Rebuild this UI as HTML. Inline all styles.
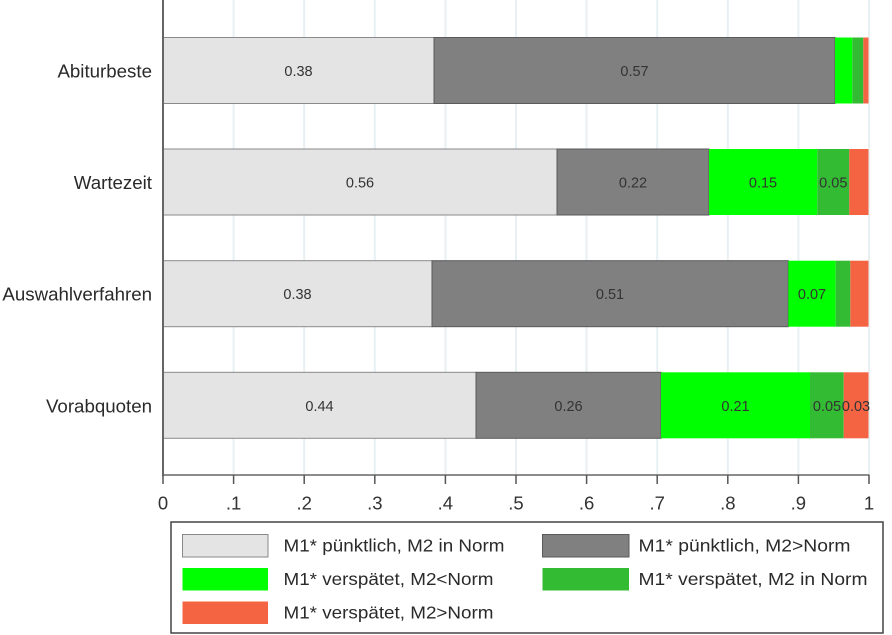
<!DOCTYPE html>
<html><head><meta charset="utf-8"><style>
html,body{margin:0;padding:0;background:#fff;}
svg{display:block;}
text{font-family:"Liberation Sans",Arial,sans-serif;}
</style></head><body>
<svg width="892" height="635" viewBox="0 0 892 635" xmlns="http://www.w3.org/2000/svg">
<rect width="892" height="635" fill="#fff"/>
<!-- gridlines -->
<g stroke="#e8f0f4" stroke-width="2">
<line x1="233.6" y1="0" x2="233.6" y2="475"/>
<line x1="304.2" y1="0" x2="304.2" y2="475"/>
<line x1="374.8" y1="0" x2="374.8" y2="475"/>
<line x1="445.4" y1="0" x2="445.4" y2="475"/>
<line x1="516" y1="0" x2="516" y2="475"/>
<line x1="586.6" y1="0" x2="586.6" y2="475"/>
<line x1="657.2" y1="0" x2="657.2" y2="475"/>
<line x1="727.8" y1="0" x2="727.8" y2="475"/>
<line x1="798.4" y1="0" x2="798.4" y2="475"/>
<line x1="869" y1="0" x2="869" y2="475"/>
</g>
<!-- bars -->
<g stroke-width="1">
<!-- Abiturbeste -->
<rect x="163" y="37.5" width="271" height="66" fill="#e4e4e4" stroke="#8a8a8a"/>
<rect x="434" y="37.5" width="401" height="66" fill="#808080" stroke="#5a5a5a"/>
<rect x="835" y="37.5" width="17.3" height="66" fill="#00ff00" stroke="none"/>
<rect x="852.3" y="37.5" width="11" height="66" fill="#33bb33" stroke="none"/>
<rect x="863.3" y="37.5" width="5.2" height="66" fill="#f46443" stroke="none"/>
<!-- Wartezeit -->
<rect x="163" y="149" width="394" height="66" fill="#e4e4e4" stroke="#8a8a8a"/>
<rect x="557" y="149" width="152" height="66" fill="#808080" stroke="#5a5a5a"/>
<rect x="709" y="149" width="108.3" height="66" fill="#00ff00" stroke="none"/>
<rect x="817.3" y="149" width="32" height="66" fill="#33bb33" stroke="none"/>
<rect x="849.3" y="149" width="19.2" height="66" fill="#f46443" stroke="none"/>
<!-- Auswahlverfahren -->
<rect x="163" y="260.7" width="269" height="66" fill="#e4e4e4" stroke="#8a8a8a"/>
<rect x="432" y="260.7" width="356.3" height="66" fill="#808080" stroke="#5a5a5a"/>
<rect x="788.3" y="260.7" width="47.4" height="66" fill="#00ff00" stroke="none"/>
<rect x="835.7" y="260.7" width="14.6" height="66" fill="#33bb33" stroke="none"/>
<rect x="850.3" y="260.7" width="18.2" height="66" fill="#f46443" stroke="none"/>
<!-- Vorabquoten -->
<rect x="163" y="372.3" width="313" height="66" fill="#e4e4e4" stroke="#8a8a8a"/>
<rect x="476" y="372.3" width="185" height="66" fill="#808080" stroke="#5a5a5a"/>
<rect x="661" y="372.3" width="149" height="66" fill="#00ff00" stroke="none"/>
<rect x="810" y="372.3" width="33.7" height="66" fill="#33bb33" stroke="none"/>
<rect x="843.7" y="372.3" width="24.8" height="66" fill="#f46443" stroke="none"/>
</g>
<!-- data labels -->
<g font-size="14.5" fill="#333" text-anchor="middle">
<text x="298.5" y="76">0.38</text>
<text x="634.5" y="76">0.57</text>
<text x="360" y="187.5">0.56</text>
<text x="633" y="187.5">0.22</text>
<text x="763" y="187.5">0.15</text>
<text x="833.3" y="187.5">0.05</text>
<text x="297.5" y="299.2">0.38</text>
<text x="610" y="299.2">0.51</text>
<text x="812" y="299.2">0.07</text>
<text x="319.5" y="410.8">0.44</text>
<text x="568.5" y="410.8">0.26</text>
<text x="735.5" y="410.8">0.21</text>
<text x="827" y="410.8">0.05</text>
<text x="856" y="410.8">0.03</text>
</g>
<!-- axes -->
<line x1="163" y1="0" x2="163" y2="476" stroke="#666" stroke-width="2"/>
<line x1="162" y1="475" x2="869.5" y2="475" stroke="#666" stroke-width="1.5"/>
<g stroke="#555" stroke-width="1.5">
<line x1="163" y1="475" x2="163" y2="484"/>
<line x1="233.6" y1="475" x2="233.6" y2="484"/>
<line x1="304.2" y1="475" x2="304.2" y2="484"/>
<line x1="374.8" y1="475" x2="374.8" y2="484"/>
<line x1="445.4" y1="475" x2="445.4" y2="484"/>
<line x1="516" y1="475" x2="516" y2="484"/>
<line x1="586.6" y1="475" x2="586.6" y2="484"/>
<line x1="657.2" y1="475" x2="657.2" y2="484"/>
<line x1="727.8" y1="475" x2="727.8" y2="484"/>
<line x1="798.4" y1="475" x2="798.4" y2="484"/>
<line x1="869" y1="475" x2="869" y2="484"/>
</g>
<!-- y labels -->
<g font-size="18.7" fill="#2a2a2a" text-anchor="end">
<text x="152" y="77.5">Abiturbeste</text>
<text x="152" y="189">Wartezeit</text>
<text x="152" y="300.7">Auswahlverfahren</text>
<text x="152" y="412.3">Vorabquoten</text>
</g>
<!-- x tick labels -->
<g font-size="18.5" fill="#333" text-anchor="middle">
<text x="163" y="509.5">0</text>
<text x="233.6" y="509.5">.1</text>
<text x="304.2" y="509.5">.2</text>
<text x="374.8" y="509.5">.3</text>
<text x="445.4" y="509.5">.4</text>
<text x="516" y="509.5">.5</text>
<text x="586.6" y="509.5">.6</text>
<text x="657.2" y="509.5">.7</text>
<text x="727.8" y="509.5">.8</text>
<text x="798.4" y="509.5">.9</text>
<text x="869" y="509.5">1</text>
</g>
<!-- legend -->
<rect x="171" y="522" width="712" height="111" fill="#fff" stroke="#444" stroke-width="1.5"/>
<rect x="182.5" y="534.5" width="85.5" height="22.5" fill="#e4e4e4" stroke="#8a8a8a" stroke-width="1"/>
<rect x="182.5" y="568" width="85.5" height="22.5" fill="#00ff00"/>
<rect x="182.5" y="601.5" width="85.5" height="22.5" fill="#f46443"/>
<rect x="542.5" y="534.5" width="86.5" height="22.5" fill="#808080" stroke="#5a5a5a" stroke-width="1"/>
<rect x="542.5" y="568" width="86.5" height="22.5" fill="#33bb33"/>
<g font-size="17.5" fill="#2a2a2a">
<text x="283.5" y="551.5" textLength="221" lengthAdjust="spacingAndGlyphs">M1* pünktlich, M2 in Norm</text>
<text x="283.5" y="585" textLength="210" lengthAdjust="spacingAndGlyphs">M1* verspätet, M2&lt;Norm</text>
<text x="283.5" y="618.5" textLength="210" lengthAdjust="spacingAndGlyphs">M1* verspätet, M2&gt;Norm</text>
<text x="638.5" y="551.5" textLength="212" lengthAdjust="spacingAndGlyphs">M1* pünktlich, M2&gt;Norm</text>
<text x="638.5" y="585" textLength="229" lengthAdjust="spacingAndGlyphs">M1* verspätet, M2 in Norm</text>
</g>
</svg>
</body></html>
